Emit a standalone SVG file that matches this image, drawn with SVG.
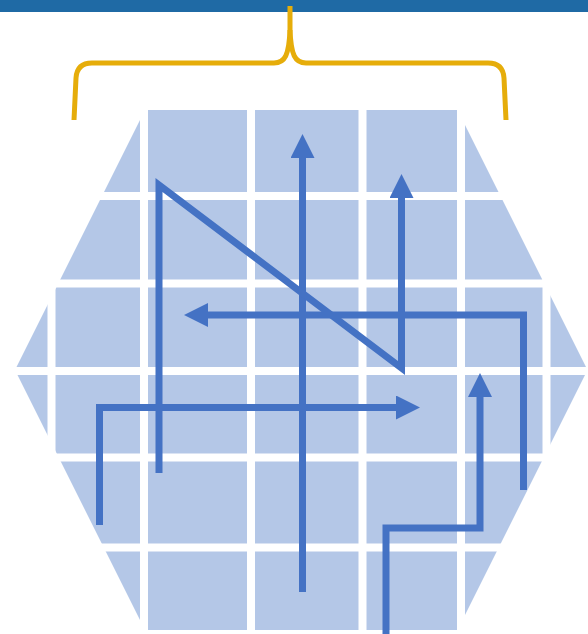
<svg xmlns="http://www.w3.org/2000/svg" width="588" height="634" viewBox="0 0 588 634">
  <style>
    .cell { fill: #B4C7E7; }
    .gap { stroke: #FFFFFF; stroke-width: 8; fill: none; }
    .arrow { stroke: #4472C4; stroke-width: 7; fill: none; stroke-linejoin: miter; stroke-linecap: butt; }
    .brace { stroke: #E6AD0A; stroke-width: 5; fill: none; stroke-linecap: butt; stroke-linejoin: round; }
  </style>
  <defs>
    <marker id="head" viewBox="0 0 24 24" markerWidth="24" markerHeight="24" refX="1" refY="12" markerUnits="userSpaceOnUse" orient="auto">
      <path d="M0,0 L24,12 L0,24 Z" fill="#4472C4"/>
    </marker>
  </defs>
  <rect width="588" height="634" fill="#FFFFFF"/>
  <g id="header-bar">
    <rect x="0" y="0" width="588" height="12" fill="#1F6AA5"/>
  </g>
  <g id="hexagon-grid">
    <polygon class="cell" points="145,110 457.5,110 587.5,370 457.5,630 145,630 15,370"/>
    <path class="gap" d="M51.5,100 V640 M144,100 V640 M251,100 V640 M362.5,100 V640 M461,100 V640 M546.5,100 V640 M0,196 H588 M0,283.5 H588 M0,371 H588 M0,457.5 H588 M0,547.5 H588"/>
  </g>
  <g id="bracket">
    <path class="brace" d="M74,120 L76,78 Q77,63 92,63 L274,63 C285,63 289,55 290,30 L290,6"/>
    <path class="brace" d="M506,120 L504,78 Q503,63 488,63 L306,63 C295,63 291,55 290,30"/>
  </g>
  <g id="connectors">
    <path id="arrow-up-center" class="arrow" d="M302.5,592 L302.5,157" marker-end="url(#head)"/>
    <path id="arrow-zigzag" class="arrow" d="M159,473 L159,185 L401.5,368 L401.5,197" marker-end="url(#head)"/>
    <path id="arrow-left" class="arrow" d="M523.5,490 L523.5,315 L207,315" marker-end="url(#head)"/>
    <path id="arrow-right" class="arrow" d="M99.5,525 L99.5,407.5 L397,407.5" marker-end="url(#head)"/>
    <path id="arrow-step-up" class="arrow" d="M386,634 L386,528 L480,528 L480,396" marker-end="url(#head)"/>
  </g>
</svg>
